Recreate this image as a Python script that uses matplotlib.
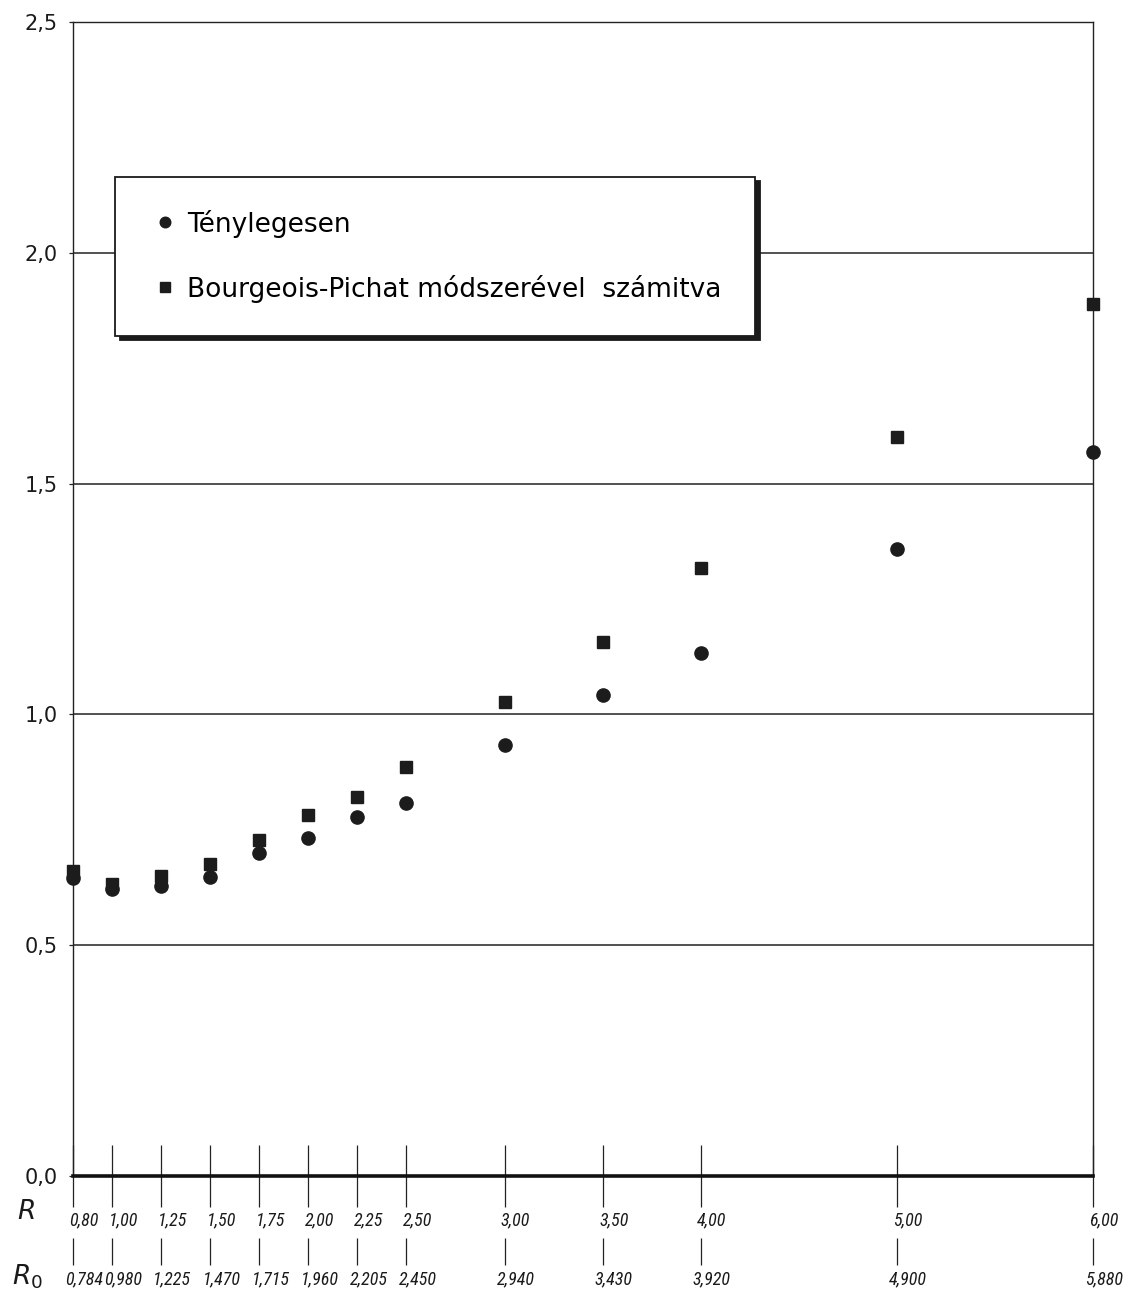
import os
import matplotlib
matplotlib.use("Agg")
import matplotlib.pyplot as plt
from matplotlib import font_manager
from matplotlib.transforms import ScaledTranslation

# R értékek és a hozzájuk tartozó R0 értékek
R = [0.80, 1.00, 1.25, 1.50, 1.75, 2.00, 2.25, 2.50, 3.00, 3.50, 4.00, 5.00, 6.00]
R_cimkek = ["0,80", "1,00", "1,25", "1,50", "1,75", "2,00", "2,25", "2,50",
            "3,00", "3,50", "4,00", "5,00", "6,00"]
R0_cimkek = ["0,784", "0,980", "1,225", "1,470", "1,715", "1,960", "2,205", "2,450",
             "2,940", "3,430", "3,920", "4,900", "5,880"]

tenyleges = [0.645, 0.622, 0.628, 0.648, 0.700, 0.732, 0.778, 0.808,
             0.934, 1.042, 1.133, 1.358, 1.568]
bourgeois = [0.660, 0.632, 0.649, 0.676, 0.728, 0.782, 0.821, 0.886,
             1.027, 1.157, 1.317, 1.601, 1.889]

y_ertekek = [0.0, 0.5, 1.0, 1.5, 2.0, 2.5]
y_cimkek = ["0,0", "0,5", "1,0", "1,5", "2,0", "2,5"]


def keskeny_betu():
    # dőlt, keskeny betűtípus keresése a tengelyfeliratokhoz
    jeloltek = []
    for f in font_manager.fontManager.ttflist:
        fajl = os.path.basename(f.fname)
        keskeny = ("Narrow" in f.name or "Condensed" in f.name
                   or "Condensed" in fajl or "Narrow" in fajl
                   or f.stretch in ("condensed", "semi-condensed"))
        dolt = f.style in ("italic", "oblique") or "Italic" in fajl or "Oblique" in fajl
        if keskeny and dolt and "Bold" not in fajl and "Light" not in fajl \
                and "Black" not in fajl and "Medium" not in fajl and "Thin" not in fajl:
            jeloltek.append(f)
    sorrend = ["Liberation Sans Narrow", "Roboto Condensed", "DejaVu Sans", "Noto Sans",
               "Open Sans"]
    jeloltek.sort(key=lambda f: sorrend.index(f.name) if f.name in sorrend else 99)
    if jeloltek:
        return font_manager.FontProperties(fname=jeloltek[0].fname, size=13)
    return font_manager.FontProperties(family="Roboto", style="italic", size=10.5)


plt.rcParams["font.family"] = ["DejaVu Sans"]
plt.rcParams["mathtext.fontset"] = "dejavusans"

betu = keskeny_betu()

fig = plt.figure(figsize=(11.44, 13.0), dpi=100)
ax = fig.add_axes([73 / 1144, 124 / 1300, 1020 / 1144, 1154 / 1300])

ax.set_xlim(0.8, 6.0)
ax.set_ylim(0.0, 2.5)

szin = "#1c1c1c"
ax.plot(R, tenyleges, "o", color=szin, ms=9.5, clip_on=False, zorder=5,
        label="Ténylegesen")
ax.plot(R, bourgeois, "s", color=szin, ms=8.5, clip_on=False, zorder=5,
        label="Bourgeois-Pichat módszerével  számitva")

# vízszintes rácsvonalak
ax.set_yticks(y_ertekek, labels=y_cimkek)
ax.yaxis.grid(True, color="#222222", lw=1.1)
ax.tick_params(axis="y", length=3, width=0.9, pad=8, labelsize=15, colors="#222222")
for t in ax.get_yticklabels():
    t.set_color("#1a1a1a")

for s in ["left", "right", "top"]:
    ax.spines[s].set_linewidth(1.0)
    ax.spines[s].set_color("#222222")
ax.spines["bottom"].set_linewidth(2.6)
ax.spines["bottom"].set_color("#111111")

# a feliratok kicsit jobbra csúsznak a beosztásvonalakhoz képest
eltolas = ScaledTranslation(8 / 72, 0, fig.dpi_scale_trans)

# R tengely
ax.set_xticks(R, labels=R_cimkek)
ax.tick_params(axis="x", direction="inout", length=45, width=0.9, pad=3,
               colors="#222222")
for t in ax.get_xticklabels():
    t.set_fontproperties(betu)
    t.set_color("#1a1a1a")
    t.set_transform(t.get_transform() + eltolas)

# R0 tengely
sec = ax.secondary_xaxis(-62 / 1154)
sec.set_xticks(R, labels=R0_cimkek)
sec.spines["bottom"].set_visible(False)
sec.tick_params(axis="x", direction="out", length=19.5, width=0.9, pad=4,
                colors="#222222")
for t in sec.get_xticklabels():
    t.set_fontproperties(betu)
    t.set_color("#1a1a1a")
    t.set_transform(t.get_transform() + eltolas)

fig.text(17 / 1144, 1 - 1212 / 1300, "$R$", fontsize=19, va="center", ha="left",
         color="#1a1a1a")
fig.text(12 / 1144, 1 - 1277 / 1300, "$R_0$", fontsize=19, va="center", ha="left",
         color="#1a1a1a")

leg = ax.legend(loc="upper left", bbox_to_anchor=(0.041, 0.866), borderaxespad=0,
                frameon=True, fancybox=False, fontsize=19, labelspacing=1.4,
                borderpad=1.25, handletextpad=0.2, handlelength=1.3,
                markerscale=0.8,
                shadow={"ox": 3.5, "oy": -3, "color": "#1a1a1a", "alpha": 1})
fr = leg.get_frame()
fr.set_edgecolor("#1a1a1a")
fr.set_linewidth(1.3)
fr.set_facecolor("white")
fr.set_alpha(1)

fig.savefig("out.png", dpi=100, facecolor="white")
